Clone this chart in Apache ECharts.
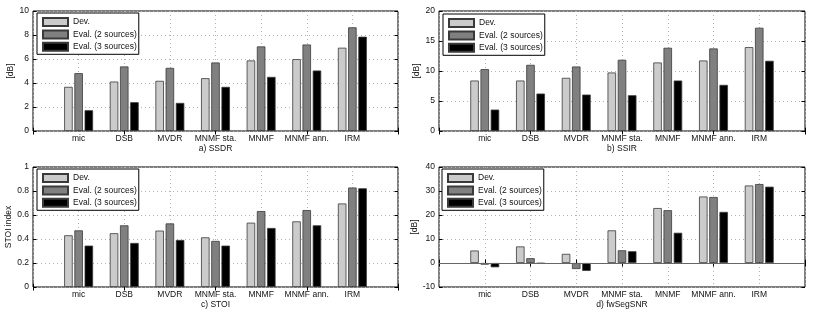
<!DOCTYPE html>
<html>
<head>
<meta charset="utf-8">
<script src="https://cdn.jsdelivr.net/npm/echarts@6/dist/echarts.min.js"></script>
<style>
html,body{margin:0;padding:0;background:#fff;}
#c{width:830px;height:315px;}
</style>
</head>
<body>
<div id="c"></div>
<script>
const categories = ['mic','DSB','MVDR','MNMF sta.','MNMF','MNMF ann.','IRM'];
const seriesNames = ['Dev.','Eval. (2 sources)','Eval. (3 sources)'];

const ssdrDev   = [3.68, 4.12, 4.18, 4.40, 5.88, 5.99, 6.94];
const ssdrEval2 = [4.82, 5.38, 5.26, 5.71, 7.05, 7.21, 8.64];
const ssdrEval3 = [1.73, 2.40, 2.34, 3.68, 4.51, 5.04, 7.86];

const ssirDev   = [8.41, 8.41, 8.86, 9.75, 11.42, 11.75, 13.98];
const ssirEval2 = [10.31, 11.03, 10.75, 11.87, 13.87, 13.76, 17.21];
const ssirEval3 = [3.57, 6.24, 6.07, 5.96, 8.41, 7.69, 11.70];

const stoiDev   = [0.431, 0.448, 0.470, 0.414, 0.536, 0.547, 0.696];
const stoiEval2 = [0.472, 0.514, 0.530, 0.384, 0.633, 0.641, 0.829];
const stoiEval3 = [0.345, 0.367, 0.392, 0.345, 0.492, 0.514, 0.823];

const snrDev   = [5.2, 6.9, 3.8, 13.6, 22.9, 27.7, 32.3];
const snrEval2 = [-0.7, 2.0, -2.5, 5.3, 22.0, 27.5, 32.9];
const snrEval3 = [-1.8, -0.2, -3.3, 4.9, 12.6, 21.3, 31.8];

const panelTitles = ['a) SSDR','b) SSIR','c) STOI','d) fwSegSNR'];
const yNames = ['[dB]','[dB]','STOI index','[dB]'];
const yMin = [0, 0, 0, -10];
const yMax = [10, 20, 1, 40];
const yInterval = [2, 5, 0.2, 10];
const yNameGap = [16.5, 15.5, 16.5, 18];

const panelData = [
  [ssdrDev, ssdrEval2, ssdrEval3],
  [ssirDev, ssirEval2, ssirEval3],
  [stoiDev, stoiEval2, stoiEval3],
  [snrDev, snrEval2, snrEval3]
];

const colors = ['#cbcbcb', '#808080', '#000000'];
const FONT = 'Liberation Sans, Arial, Helvetica, sans-serif';
const FS = 8.5;

const grids = [
  {left: 33, top: 11, width: 365, height: 120},
  {left: 439, top: 11, width: 366, height: 120},
  {left: 33, top: 167, width: 365, height: 120},
  {left: 439, top: 167, width: 366, height: 120}
];
const legendPos = [
  {left: 37, top: 13},
  {left: 443, top: 14},
  {left: 37, top: 169},
  {left: 442, top: 169}
];

const axisCats = [''].concat(categories, ['']);
const pad = arr => [null].concat(arr, [null]);

const xAxes = [], yAxes = [], series = [], legends = [];
for (let p = 0; p < 4; p++) {
  xAxes.push({
    type: 'category', gridIndex: p, data: axisCats, boundaryGap: false,
    axisLine: {show: false},
    axisTick: {show: true, inside: true, length: 3.5, lineStyle: {color: '#000'}},
    axisLabel: {show: true, margin: 3, fontSize: FS, fontFamily: FONT, color: '#111', interval: 0},
    splitLine: {show: true, lineStyle: {color: '#b4b4b4', type: [1, 3], width: 1}},
    name: panelTitles[p], nameLocation: 'middle', nameGap: 11.5,
    nameTextStyle: {fontSize: FS, fontFamily: FONT, color: '#111'}
  });
  yAxes.push({
    type: 'value', gridIndex: p, min: yMin[p], max: yMax[p], interval: yInterval[p],
    axisLine: {show: false},
    axisTick: {show: true, inside: true, length: 3.5, lineStyle: {color: '#000'}},
    axisLabel: {show: true, margin: 4, fontSize: FS, fontFamily: FONT, color: '#111'},
    splitLine: {show: true, lineStyle: {color: '#b4b4b4', type: [1, 3], width: 1}},
    name: yNames[p], nameLocation: 'middle', nameGap: yNameGap[p],
    nameTextStyle: {fontSize: FS, fontFamily: FONT, color: '#111'}
  });
}
for (let p = 0; p < 4; p++) {
  xAxes.push({
    type: 'category', gridIndex: p, data: axisCats, boundaryGap: false, position: 'top',
    axisLine: {show: false},
    axisTick: {show: true, inside: true, length: 3.5, lineStyle: {color: '#000'}},
    axisLabel: {show: false}, splitLine: {show: false}
  });
  yAxes.push({
    type: 'value', gridIndex: p, min: yMin[p], max: yMax[p], interval: yInterval[p], position: 'right',
    axisLine: {show: false},
    axisTick: {show: true, inside: true, length: 3.5, lineStyle: {color: '#000'}},
    axisLabel: {show: false}, splitLine: {show: false}
  });
}
for (let p = 0; p < 4; p++) {
  for (let s = 0; s < 3; s++) {
    const ser = {
      type: 'bar', name: seriesNames[s], xAxisIndex: p, yAxisIndex: p,
      data: pad(panelData[p][s]), barWidth: 8.5, barGap: '20%',
      itemStyle: {color: colors[s], borderColor: '#3a3a3a', borderWidth: 0.8},
      emphasis: {disabled: true}, animation: false
    };
    if (p === 3 && s === 0) {
      ser.markLine = {
        silent: true, symbol: 'none', animation: false,
        label: {show: false},
        lineStyle: {color: '#666', width: 1, type: 'solid'},
        data: [{yAxis: 0}]
      };
    }
    series.push(ser);
  }
  legends.push({
    left: legendPos[p].left, top: legendPos[p].top, orient: 'vertical',
    data: seriesNames, icon: 'rect', itemWidth: 25, itemHeight: 8, itemGap: 2.4, itemTextGap: 3,
    padding: [4, 2, 2.5, 5], borderColor: '#000', borderWidth: 1, backgroundColor: '#fff',
    textStyle: {fontSize: FS, fontFamily: FONT, color: '#111', lineHeight: 9},
    selectedMode: false, z: 10
  });
}

const chart = echarts.init(document.getElementById('c'), null, {renderer: 'canvas'});
chart.setOption({
  animation: false,
  backgroundColor: '#fff',
  grid: grids.map(g => Object.assign({show: true, borderColor: '#000', borderWidth: 1, backgroundColor: 'transparent'}, g)),
  xAxis: xAxes,
  yAxis: yAxes,
  legend: legends,
  series: series
});
</script>
</body>
</html>
